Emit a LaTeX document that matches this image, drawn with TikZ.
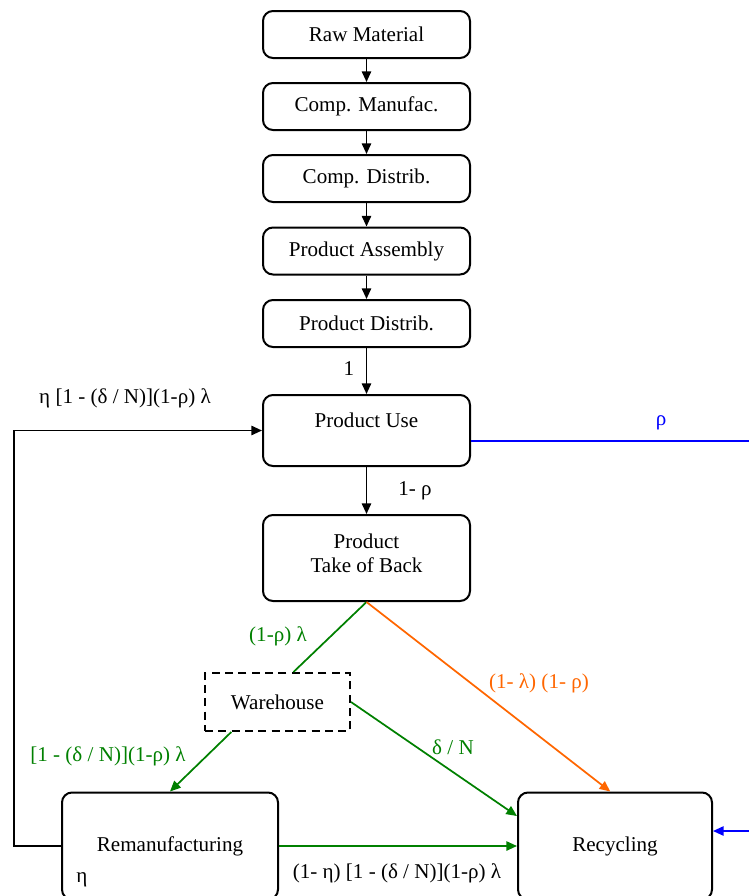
\documentclass[tikz,border=0pt]{standalone}
\usepackage{fontspec}
\setmainfont{Liberation Serif}
\newfontfamily\diagfont{Liberation Serif}
\usetikzlibrary{arrows.meta}
\definecolor{flowgreen}{RGB}{0,128,0}
\definecolor{floworange}{RGB}{255,102,0}
\begin{document}
\begin{tikzpicture}[x=0.75pt,y=-0.75pt,
		font=\diagfont\fontsize{15.8}{18}\selectfont,
		box/.style={draw,line width=1.5pt,rounded corners=7.5pt,minimum width=155.25pt,minimum height=35.25pt,align=center,inner sep=0pt},
		arr/.style={line width=1.3pt,-{Triangle[length=8pt,width=7pt]}},
		lbl/.style={inner sep=0pt}]
		\clip (0,0) rectangle (749,896);
		\node[box] (raw) at (366.5,34.5) {Raw Material};
		\node[box] (manu) at (366.5,106.5) {Comp. Manufac.};
		\node[box] (cdist) at (366.5,178.5) {Comp. Distrib.};
		\node[box] (assem) at (366.5,251) {Product Assembly};
		\node[box] (pdist) at (366.5,323.5) {Product Distrib.};
		\node[box,minimum height=53.25pt,text height=11pt,text depth=15pt] (use) at (366.5,430.5) {Product Use};
		\node[box,minimum height=64.5pt,text depth=7pt] (takeback) at (366.5,558) {Product\\Take of Back};
		\node[draw,line width=1.5pt,dash pattern=on 6pt off 4pt,minimum width=108.75pt,minimum height=43.5pt,inner sep=0pt] (ware) at (277.5,702) {Warehouse};
		\node[box,minimum width=162pt,minimum height=80.25pt] (reman) at (170,846) {Remanufacturing};
		\node[box,minimum width=145.5pt,minimum height=80.25pt] (recyc) at (615,846) {Recycling};
		\coordinate (bend) at (14,846);
		\coordinate (rhoout) at (749,441);
		\coordinate (rhoin) at (749,831);
		\draw[arr] (raw) -- (manu);
		\draw[arr] (manu) -- (cdist);
		\draw[arr] (cdist) -- (assem);
		\draw[arr] (assem) -- (pdist);
		\draw[arr] (pdist) -- (use);
		\draw[arr] (use) -- (takeback);
		\draw[arr] (reman.west) -- (bend) |- (use.west);
		\draw[blue,line width=1.3pt] (use.east |- rhoout) -- (rhoout);
		\draw[arr,blue] (rhoin) -- (recyc.east |- rhoin);
		\draw[flowgreen,line width=1.3pt] (takeback.south) -- (ware.62);
		\draw[arr,floworange] (takeback.south) -- (recyc.95);
		\draw[arr,flowgreen] (ware.213) -- (reman.north);
		\draw[arr,flowgreen] (ware.east) -- (recyc.163);
		\draw[arr,flowgreen] (reman.east) -- (recyc.west);
		\node[lbl] (one) at (349,369) {1};
		\node[lbl] (notrho) at (415,491) {1- ρ};
		\node[lbl,text=blue] (rho) at (661,423) {ρ};
		\node[lbl] (reuse) at (125,398) {η [1 - (δ / N)](1-ρ) λ};
		\node[lbl,text=flowgreen] (stored) at (278,636) {(1-ρ) λ};
		\node[lbl,text=floworange] (direct) at (539,683) {(1- λ) (1- ρ)};
		\node[lbl,text=flowgreen] (toreman) at (108,756) {[1 - (δ / N)](1-ρ) λ};
		\node[lbl,text=flowgreen] (lost) at (453,747) {δ / N};
		\node[lbl] (scrap) at (397,873) {(1- η) [1 - (δ / N)](1-ρ) λ};
		\node[lbl] (eta) at (82,880) {η};
	\end{tikzpicture}
\end{document}
